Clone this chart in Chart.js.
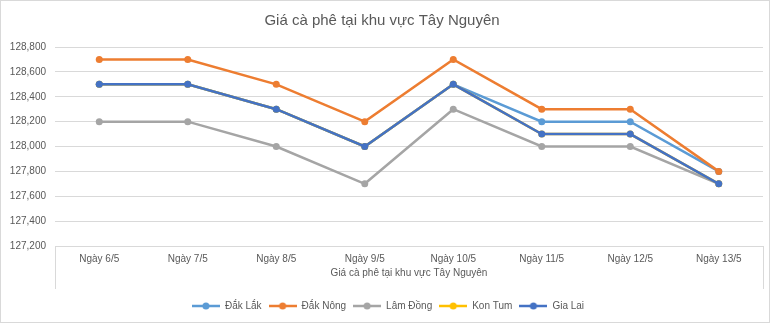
<!DOCTYPE html>
<html>
<head>
<meta charset="utf-8">
<script src="https://cdn.jsdelivr.net/npm/chart.js@4"></script>
<style>
    html, body { margin: 0; padding: 0; background: #fff; }
    #wrap { width: 770px; height: 323px; box-sizing: border-box; border: 1px solid #d9d9d9; position: relative; }
    #priceChart { display: block; }
</style>
</head>
<body>
<div id="wrap"><canvas id="priceChart" width="768" height="321"></canvas></div>
<script>
// ===== DATA =====
const days = ['Ngày 6/5', 'Ngày 7/5', 'Ngày 8/5', 'Ngày 9/5', 'Ngày 10/5', 'Ngày 11/5', 'Ngày 12/5', 'Ngày 13/5'];
const seriesNames = ['Đắk Lắk', 'Đắk Nông', 'Lâm Đồng', 'Kon Tum', 'Gia Lai'];
const dakLak = [128500, 128500, 128300, 128000, 128500, 128200, 128200, 127800];
const dakNong = [128700, 128700, 128500, 128200, 128700, 128300, 128300, 127800];
const lamDong = [128200, 128200, 128000, 127700, 128300, 128000, 128000, 127700];
const konTum = [128500, 128500, 128300, 128000, 128500, 128100, 128100, 127700];
const giaLai = [128500, 128500, 128300, 128000, 128500, 128100, 128100, 127700];
const yTicks = [127200, 127400, 127600, 127800, 128000, 128200, 128400, 128600, 128800];

const chartTitle = 'Giá cà phê tại khu vực Tây Nguyên';
const colors = ['#5B9BD5', '#ED7D31', '#A5A5A5', '#FFC000', '#4472C4'];
const FONT = "'Liberation Sans', Arial, sans-serif";
const TEXT = '#595959';
const GRID = '#d9d9d9';

// small "line + dot" marker like the Excel legend
function legendMarker(color) {
    const c = document.createElement('canvas');
    c.width = 28; c.height = 8;
    const g = c.getContext('2d');
    g.strokeStyle = color; g.lineWidth = 2.5;
    g.beginPath(); g.moveTo(0, 4); g.lineTo(28, 4); g.stroke();
    g.fillStyle = color;
    g.beginPath(); g.arc(14, 4, 3.5, 0, Math.PI * 2); g.fill();
    return c;
}

// ---- box around category labels (multi-level axis look) + legend nudge ----
const axisBox = {
    id: 'axisBox',
    afterLayout(chart) {
        chart.legend.left += 12;
    },
    afterDraw(chart) {
        const { ctx, chartArea, scales } = chart;
        const bottom = scales.x.bottom - 5;
        ctx.save();
        ctx.strokeStyle = GRID;
        ctx.lineWidth = 1;
        ctx.beginPath();
        ctx.moveTo(Math.round(chartArea.left) + 0.5, chartArea.bottom);
        ctx.lineTo(Math.round(chartArea.left) + 0.5, bottom);
        ctx.moveTo(Math.round(chartArea.right) + 0.5, chartArea.bottom);
        ctx.lineTo(Math.round(chartArea.right) + 0.5, bottom);
        ctx.stroke();
        ctx.restore();
    }
};

const allValues = [dakLak, dakNong, lamDong, konTum, giaLai];
const datasets = seriesNames.map((name, i) => ({
    label: name,
    data: allValues[i],
    borderColor: colors[i],
    backgroundColor: colors[i],
    borderWidth: 2.5,
    pointRadius: 3.5,
    pointHoverRadius: 3.5,
    pointBorderWidth: 0,
    tension: 0,
    order: seriesNames.length - i, // later series on top, like Excel
}));

new Chart(document.getElementById('priceChart'), {
    type: 'line',
    data: { labels: days, datasets },
    plugins: [axisBox],
    options: {
        responsive: false,
        animation: false,
        layout: { padding: { left: 0, right: 6, top: 0, bottom: 1 } },
        plugins: {
            title: {
                display: true,
                text: chartTitle,
                color: TEXT,
                font: { family: FONT, size: 15, weight: 'normal' },
                padding: { top: 11, bottom: 17 }
            },
            legend: {
                position: 'bottom',
                labels: {
                    usePointStyle: true,
                    pointStyleWidth: 28,
                    padding: 7,
                    color: TEXT,
                    font: { family: FONT, size: 10 },
                    generateLabels(chart) {
                        return chart.data.datasets.map((ds, i) => ({
                            text: ds.label,
                            pointStyle: legendMarker(ds.borderColor),
                            fillStyle: ds.borderColor,
                            strokeStyle: ds.borderColor,
                            lineWidth: 0,
                            fontColor: TEXT,
                            hidden: false,
                            datasetIndex: i
                        }));
                    }
                }
            },
            tooltip: { enabled: false }
        },
        scales: {
            x: {
                offset: true,
                grid: { display: false, drawTicks: false },
                border: { display: false },
                ticks: { color: TEXT, font: { family: FONT, size: 10 }, padding: 7, maxRotation: 0 },
                title: {
                    display: true,
                    text: chartTitle,
                    color: TEXT,
                    font: { family: FONT, size: 10 },
                    padding: { top: 1, bottom: 15 }
                },
                afterFit(scale) { scale.height = 48; }
            },
            y: {
                min: 127200,
                max: 128800,
                afterBuildTicks(scale) { scale.ticks = yTicks.map(v => ({ value: v })); },
                grid: { color: GRID, lineWidth: 1, drawTicks: false },
                border: { display: false },
                ticks: {
                    color: TEXT,
                    font: { family: FONT, size: 10 },
                    padding: 9,
                    callback: v => v.toLocaleString('en-US')
                },
                afterFit(scale) { scale.width = 54; }
            }
        }
    }
});
</script>
</body>
</html>
